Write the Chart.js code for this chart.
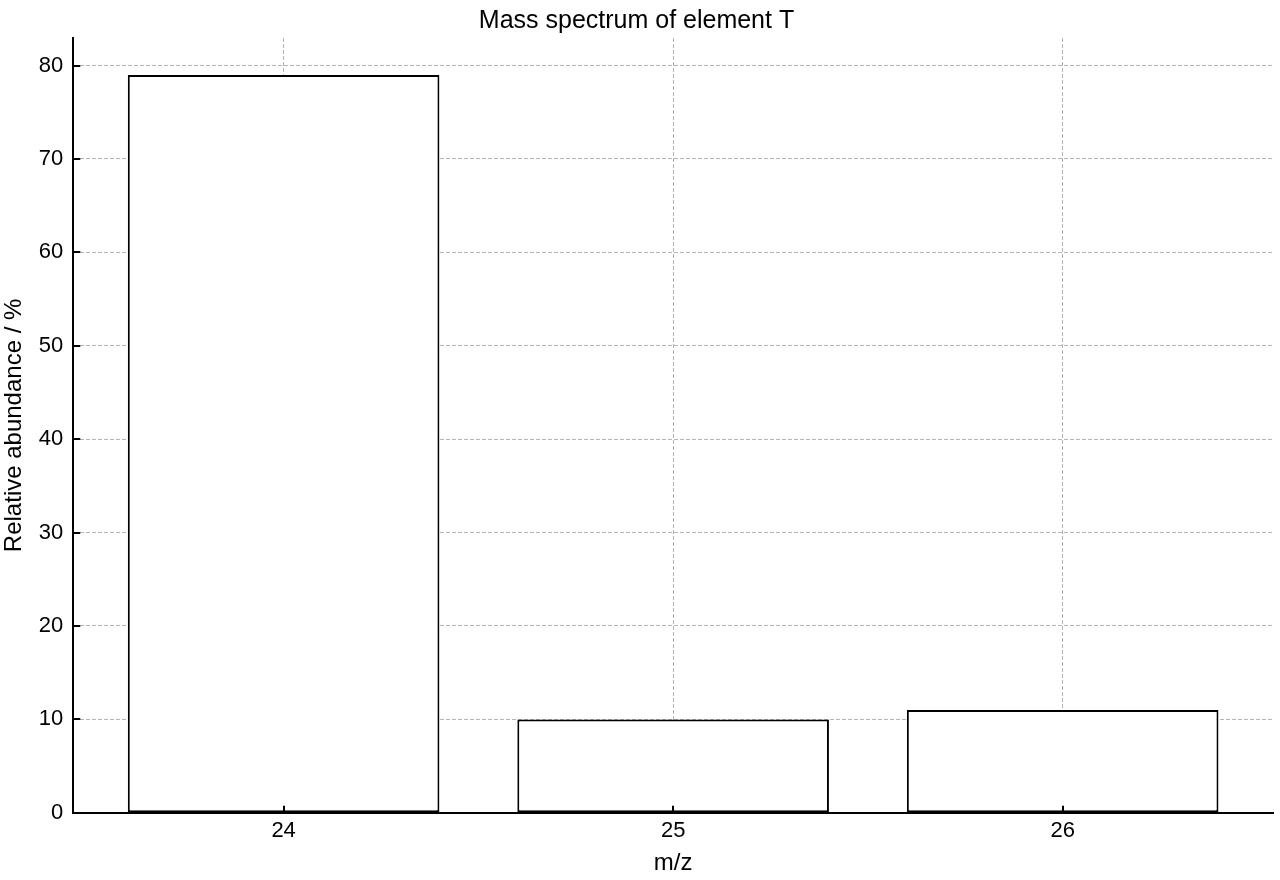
<!DOCTYPE html>
<html>
<head>
<meta charset="utf-8">
<script src="https://cdn.jsdelivr.net/npm/chart.js@4.4.0/dist/chart.umd.min.js"></script>
<style>
html,body{margin:0;padding:0;background:#fff;}
#wrap{width:1280px;height:880px;}
</style>
</head>
<body>
<div id="wrap"><canvas id="c" width="1280" height="880"></canvas></div>
<script>
const massToCharge = [24, 25, 26];
const abundance = [79, 10, 11];
const yTicks = [0, 10, 20, 30, 40, 50, 60, 70, 80];
const titleText = 'Mass spectrum of element T';
const xTitle = 'm/z';
const yTitle = 'Relative abundance / %';

const FONT = "'Liberation Sans', Arial, Helvetica, sans-serif";

const inwardTicks = {
  id: 'inwardTicks',
  afterDraw(chart) {
    const ctx = chart.ctx;
    const xs = chart.scales.x, ys = chart.scales.y;
    ctx.save();
    ctx.strokeStyle = '#000';
    ctx.lineWidth = 2;
    ctx.beginPath();
    xs.ticks.forEach(t => {
      const px = Math.round(xs.getPixelForValue(t.value));
      ctx.moveTo(px, ys.bottom);
      ctx.lineTo(px, ys.bottom - 7);
    });
    ys.ticks.forEach(t => {
      const py = Math.round(ys.getPixelForValue(t.value));
      ctx.moveTo(xs.left, py);
      ctx.lineTo(xs.left + 7, py);
    });
    ctx.stroke();
    ctx.restore();
  }
};

new Chart(document.getElementById('c'), {
  type: 'bar',
  data: {
    datasets: [{
      data: massToCharge.map((m, i) => ({x: m, y: abundance[i]})),
      backgroundColor: '#ffffff',
      borderColor: '#000000',
      borderWidth: 2,
      borderSkipped: false,
      barPercentage: 0.8,
      categoryPercentage: 1.0
    }]
  },
  options: {
    responsive: false,
    devicePixelRatio: 1,
    animation: false,
    layout: { padding: { left: 0, right: 7, top: 0, bottom: 2 } },
    plugins: {
      legend: { display: false },
      tooltip: { enabled: false },
      title: {
        display: true,
        text: titleText,
        color: '#000',
        font: { family: FONT, size: 25, weight: 'normal' },
        padding: { top: 6, bottom: 2 }
      }
    },
    scales: {
      x: {
        type: 'linear',
        offset: false,
        min: 23.46,
        max: 26.54,
        afterBuildTicks: (s) => { s.ticks = massToCharge.map(v => ({value: v})); },
        ticks: {
          color: '#000',
          font: { family: FONT, size: 22 },
          padding: 5,
          callback: (v) => String(v)
        },
        grid: { offset: false, color: '#b5b5b5', lineWidth: 1, drawTicks: false },
        border: { display: true, color: '#000', width: 2, dash: [4, 2] },
        title: {
          display: true, text: xTitle, color: '#000',
          font: { family: FONT, size: 24 }, padding: { top: 0, bottom: 0 }
        }
      },
      y: {
        type: 'linear',
        min: 0,
        max: 82.95,
        afterBuildTicks: (s) => { s.ticks = yTicks.map(v => ({value: v})); },
        ticks: {
          color: '#000',
          font: { family: FONT, size: 22 },
          padding: 10
        },
        grid: { color: '#b5b5b5', lineWidth: 1, drawTicks: false },
        border: { display: true, color: '#000', width: 2, dash: [4, 2] },
        title: {
          display: true, text: yTitle, color: '#000',
          font: { family: FONT, size: 24 }, padding: { top: 0, bottom: 0 }
        }
      }
    }
  },
  plugins: [inwardTicks]
});
</script>
</body>
</html>
